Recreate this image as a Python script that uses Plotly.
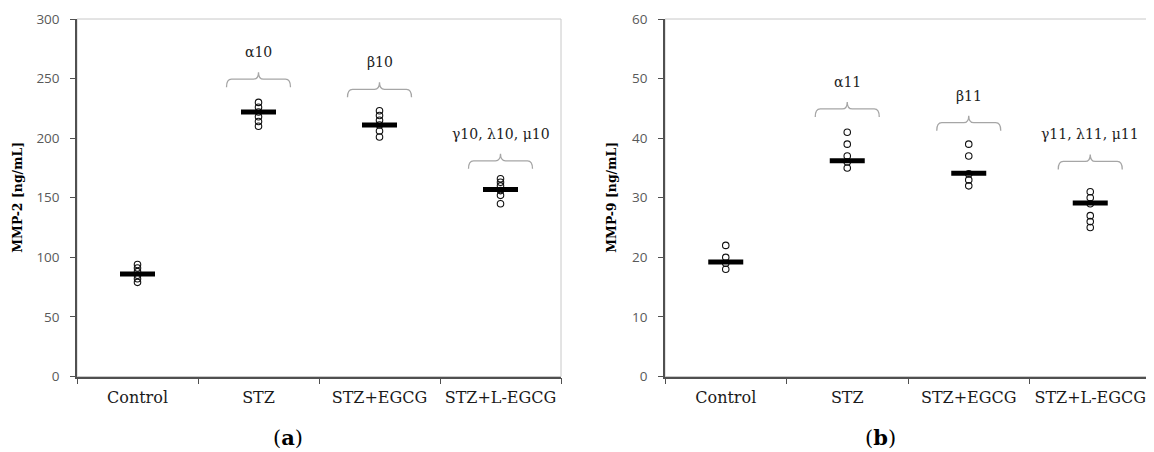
import plotly.graph_objects as go

categories = ["Control", "STZ", "STZ+EGCG", "STZ+L-EGCG"]

# Panel (a) MMP-2 [ng/mL]
mmp2_points = [
    [79, 82, 85, 88, 91, 94],
    [210, 214, 218, 222, 226, 230],
    [201, 206, 211, 215, 219, 223],
    [145, 152, 156, 160, 163, 166],
]
mmp2_means = [86, 222, 211, 157]
mmp2_bracket = [None, 249.5, 241, 181]
mmp2_labels = [None, "α10", "β10", "γ10, λ10, μ10"]

# Panel (b) MMP-9 [ng/mL]
mmp9_points = [
    [18, 19, 20, 22],
    [35, 36, 37, 39, 41],
    [32, 33, 34, 37, 39],
    [25, 26, 27, 29, 30, 31],
]
mmp9_means = [19.2, 36.2, 34.1, 29.1]
mmp9_bracket = [None, 44.9, 42.6, 36.1]
mmp9_labels = [None, "α11", "β11", "γ11, λ11, μ11"]

W, H = 1154, 452
OFF = 8  # page body margin offset applied by the browser
SERIF = "DejaVu Serif"
SANS = "Open Sans"


def px_x(v):
    return (v - OFF) / W


def px_y(v):
    return (H - (v - OFF)) / H


fig = go.Figure()

panels = [
    dict(points=mmp2_points, means=mmp2_means, br=mmp2_bracket, lab=mmp2_labels,
         xa="x", ya="y", title="MMP-2 [ng/mL]",
         dom=[px_x(77), px_x(561)], title_x=px_x(18), cap="a", cap_x=px_x(288)),
    dict(points=mmp9_points, means=mmp9_means, br=mmp9_bracket, lab=mmp9_labels,
         xa="x2", ya="y2", title="MMP-9 [ng/mL]",
         dom=[px_x(665), px_x(1151)], title_x=px_x(612), cap="b", cap_x=px_x(880)),
]

ydom = [px_y(376.5), px_y(19)]

shapes = []
annotations = []

for i, p in enumerate(panels):
    xs, ys = [], []
    for c, vals in zip(categories, p["points"]):
        for v in vals:
            xs.append(c)
            ys.append(v)
    fig.add_trace(go.Scatter(
        x=xs, y=ys, mode="markers", xaxis=p["xa"], yaxis=p["ya"],
        marker=dict(symbol="circle-open", size=6.5, color="#111111",
                    line=dict(width=1.1, color="#111111")),
        showlegend=False, hoverinfo="y"))
    fig.add_trace(go.Scatter(
        x=categories, y=p["means"], mode="markers", xaxis=p["xa"], yaxis=p["ya"],
        marker=dict(symbol="line-ew", size=25, color="black",
                    line=dict(width=5, color="black")),
        showlegend=False, hoverinfo="y"))

    sfx = "" if i == 0 else "2"
    shapes.append(dict(type="rect", xref=f"x{sfx} domain", yref=f"y{sfx} domain",
                       x0=0, x1=1, y0=0, y1=1, layer="below",
                       line=dict(color="#c8c8c8", width=1)))
    for k, (lvl, txt) in enumerate(zip(p["br"], p["lab"])):
        if lvl is None:
            continue
        path = ("M -32,-8 Q -32,0 -27,0 L -5,0 Q 0,0 0,7 "
                "Q 0,0 5,0 L 27,0 Q 32,0 32,-8")
        shapes.append(dict(type="path", xref=p["xa"], yref=p["ya"],
                           xsizemode="pixel", ysizemode="pixel",
                           xanchor=k, yanchor=lvl, path=path,
                           line=dict(color="#a6a6a6", width=1.3)))
        annotations.append(dict(x=k, y=lvl, xref=p["xa"], yref=p["ya"],
                                text=txt, showarrow=False, yshift=27,
                                yanchor="middle", xanchor="center",
                                font=dict(family=SERIF, size=14, color="#222222")))
    annotations.append(dict(x=p["title_x"], y=(ydom[0] + ydom[1]) / 2,
                            xref="paper", yref="paper", text=f"<b>{p['title']}</b>",
                            textangle=-90, showarrow=False, xanchor="center",
                            yanchor="middle",
                            font=dict(family=SERIF, size=12.5, color="black")))
    annotations.append(dict(x=p["cap_x"], y=px_y(437), xref="paper", yref="paper",
                            text=f"(<b>{p['cap']}</b>)", showarrow=False,
                            xanchor="center", yanchor="middle",
                            font=dict(family=SERIF, size=21, color="black")))

axis_color = "#505050"
xcommon = dict(type="category", categoryorder="array", categoryarray=categories,
               range=[-0.5, 3.5], tickson="boundaries", ticks="outside", ticklen=6,
               tickcolor=axis_color, tickwidth=1.2, showline=True, linecolor=axis_color,
               linewidth=1.5, showgrid=False, zeroline=False, fixedrange=True,
               automargin=False,
               tickfont=dict(family=SERIF, size=16, color="#1a1a1a"),
               ticklabelstandoff=6)
ycommon = dict(ticks="outside", ticklen=5, tickcolor=axis_color, tickwidth=1.2,
               showline=True, linecolor=axis_color, linewidth=1.5, showgrid=False,
               zeroline=False, fixedrange=True, ticklabelstandoff=8, automargin=False,
               tickfont=dict(family=SANS, size=13.5, color="#595959"))

fig.update_layout(
    width=W, height=H, margin=dict(l=0, r=0, t=0, b=0, autoexpand=False),
    paper_bgcolor="white", plot_bgcolor="white",
    xaxis=dict(domain=panels[0]["dom"], anchor="y", **xcommon),
    yaxis=dict(domain=ydom, anchor="x", range=[0, 300], dtick=50, **ycommon),
    xaxis2=dict(domain=panels[1]["dom"], anchor="y2", **xcommon),
    yaxis2=dict(domain=ydom, anchor="x2", range=[0, 60], dtick=10, **ycommon),
    shapes=shapes, annotations=annotations,
)

fig.write_html("out.html")
